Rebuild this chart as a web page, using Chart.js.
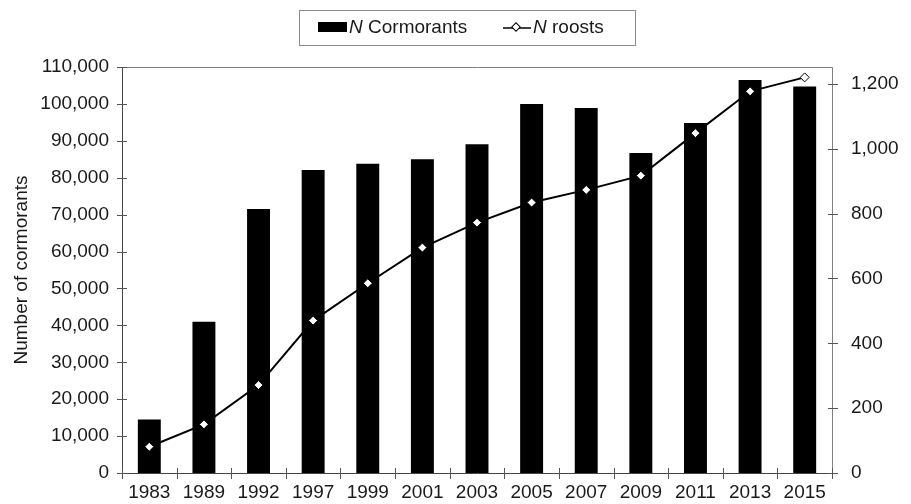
<!DOCTYPE html>
<html>
<head>
<meta charset="utf-8">
<script src="https://cdn.jsdelivr.net/npm/chart.js@4"></script>
<style>
    body { margin: 0; background: #ffffff; font-family: 'Liberation Sans', Arial, sans-serif; }
    #wrap { position: relative; width: 911px; height: 504px; }
    #legend {
        position: absolute; left: 299px; top: 10px; width: 337px; height: 36px;
        border: 1px solid #8a8a8a; box-sizing: border-box;
        font-size: 19px; color: #1a1a1a;
    }
    #legend .item { position: absolute; top: 5px; line-height: 22px; white-space: nowrap; }
    #legend .swatch { display: inline-block; width: 29px; height: 10px; background: #000; vertical-align: 1px; margin-right: 2px; }
    #legend svg { vertical-align: -1px; margin-right: 1px; }
</style>
</head>
<body>
<div id="wrap">
    <canvas id="chart"></canvas>
    <div id="legend">
        <span class="item" style="left: 18px;"><span class="swatch"></span><i>N</i> Cormorants</span>
        <span class="item" style="left: 202px;"><svg width="30" height="12"><line x1="1" y1="6" x2="29" y2="6" stroke="#000" stroke-width="1.5"/><rect x="11" y="2" width="6" height="6" transform="rotate(45 14 5)" fill="#fff" stroke="#000" stroke-width="1"/></svg><i>N</i> roosts</span>
    </div>
</div>
<script>
const years = ['1983', '1989', '1992', '1997', '1999', '2001', '2003', '2005', '2007', '2009', '2011', '2013', '2015'];
const cormorants = [14500, 41000, 71500, 82100, 83800, 85000, 89100, 100000, 98900, 86700, 94800, 106500, 104700];
const roosts = [81, 150, 271, 470, 585, 695, 772, 834, 873, 917, 1048, 1177, 1220];
const leftTicks = [0, 10000, 20000, 30000, 40000, 50000, 60000, 70000, 80000, 90000, 100000, 110000];
const rightTicks = [0, 200, 400, 600, 800, 1000, 1200];

const textColor = '#1a1a1a';
const fmt = v => Number(v).toLocaleString('en-US');

// frame + tick marks crossing the axis lines, like the original
const framePlugin = {
    id: 'frame',
    afterDatasetsDraw(chart) {
        const ctx = chart.ctx;
        const a = chart.chartArea;
        const x = chart.scales.x, y = chart.scales.y, y1 = chart.scales.y1;
        ctx.save();
        ctx.lineWidth = 1;
        ctx.strokeStyle = '#808080';
        ctx.beginPath();
        ctx.moveTo(a.left, a.top + 0.5);
        ctx.lineTo(a.right + 0.5, a.top + 0.5);
        ctx.lineTo(a.right + 0.5, a.bottom);
        ctx.stroke();

        ctx.strokeStyle = '#444';
        ctx.beginPath();
        ctx.moveTo(a.left + 0.5, a.top);
        ctx.lineTo(a.left + 0.5, a.bottom + 0.5);
        ctx.lineTo(a.right + 0.5, a.bottom + 0.5);
        ctx.stroke();

        ctx.strokeStyle = '#555';
        ctx.beginPath();
        y.ticks.forEach(t => {
            const py = Math.round(y.getPixelForValue(t.value)) + 0.5;
            ctx.moveTo(a.left - 5, py);
            ctx.lineTo(a.left + 5, py);
        });
        y1.ticks.forEach(t => {
            const py = Math.round(y1.getPixelForValue(t.value)) + 0.5;
            ctx.moveTo(a.right - 4, py);
            ctx.lineTo(a.right + 6, py);
        });
        const step = x.getPixelForValue(1) - x.getPixelForValue(0);
        for (let i = 0; i <= years.length; i++) {
            const px = Math.round(x.getPixelForValue(i) - step / 2) + 0.5;
            ctx.moveTo(px, a.bottom - 5);
            ctx.lineTo(px, a.bottom + 6);
        }
        ctx.stroke();
        ctx.restore();
    }
};

Chart.defaults.font.family = "'Liberation Sans', Arial, sans-serif";
Chart.defaults.font.size = 19;
Chart.defaults.color = textColor;

new Chart(document.getElementById('chart'), {
    type: 'bar',
    data: {
        labels: years,
        datasets: [{
            type: 'line',
            label: 'N roosts',
            data: roosts,
            yAxisID: 'y1',
            borderColor: '#000',
            borderWidth: 2,
            pointStyle: 'rectRot',
            pointRadius: 4.5,
            pointBackgroundColor: '#fff',
            pointBorderColor: '#000',
            pointBorderWidth: 1,
            tension: 0,
            order: 0
        }, {
            label: 'N Cormorants',
            data: cormorants,
            yAxisID: 'y',
            backgroundColor: '#000',
            categoryPercentage: 1,
            barPercentage: 0.42,
            order: 1
        }]
    },
    options: {
        responsive: true,
        maintainAspectRatio: false,
        animation: false,
        layout: { padding: { top: 67, left: 0, right: 0, bottom: 0 } },
        plugins: {
            legend: { display: false },
            tooltip: { enabled: false }
        },
        scales: {
            x: {
                grid: { display: false, drawTicks: false },
                border: { display: false },
                ticks: { padding: 8, maxRotation: 0, autoSkip: false },
                afterFit: s => { s.height = 31; }
            },
            y: {
                position: 'left',
                min: 0,
                max: 110000,
                grid: { display: false, drawTicks: false },
                border: { display: false },
                afterBuildTicks: s => { s.ticks = leftTicks.map(v => ({ value: v })); },
                ticks: { padding: 13, callback: v => fmt(v) },
                title: {
                    display: true,
                    text: 'Number of cormorants',
                    padding: { top: 10, bottom: 0 }
                },
                afterFit: s => { s.width = 122; }
            },
            y1: {
                position: 'right',
                min: 0,
                max: 1252,
                grid: { display: false, drawTicks: false },
                border: { display: false },
                afterBuildTicks: s => { s.ticks = rightTicks.map(v => ({ value: v })); },
                ticks: { padding: 19, callback: v => fmt(v) },
                afterFit: s => { s.width = 79; }
            }
        }
    },
    plugins: [framePlugin]
});
</script>
</body>
</html>
